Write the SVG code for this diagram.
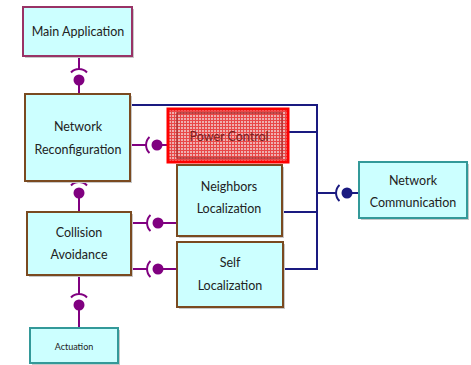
<svg xmlns="http://www.w3.org/2000/svg" width="471" height="365" viewBox="0 0 471 365">
<style>
.box{fill:#ccffff;stroke-width:2}
.sh{fill:#c8c8c8}
.t{font-family:Lato,"Open Sans",sans-serif;font-size:12.5px;fill:#222;text-anchor:middle}
.p{stroke:#800080;stroke-width:2;fill:none}
.ball{fill:#800080}
.n{stroke:#1a1a80;stroke-width:2;fill:none}
.nball{fill:#1a1a80}
</style>
<defs>
<pattern id="grid" width="3" height="3" patternUnits="userSpaceOnUse">
<rect width="3" height="3" fill="#eeb0b0"/>
<path d="M0 0.5H3M0.5 0V3" stroke="#e84848" stroke-width="1"/>
</pattern>
</defs>
<rect width="471" height="365" fill="#fff"/>
<g id="connectors">
<!-- Main App to Network Reconfig -->
<path class="p" d="M79 56V69M79 80V94M71 72.5A11 11 0 0 1 87 72.5"/>
<circle class="ball" cx="79" cy="80" r="5.5"/>
<!-- NR to CA -->
<path class="p" d="M79 181V182M79 193V212M71 185.5A11 11 0 0 1 87 185.5"/>
<circle class="ball" cx="79" cy="193" r="5.5"/>
<!-- CA to Actuation -->
<path class="p" d="M79 275V294M79 305V328M71 297.5A11 11 0 0 1 87 297.5"/>
<circle class="ball" cx="79" cy="305" r="5.5"/>
<!-- NR to Power Control -->
<path class="p" d="M130 145H146M157 145H177M149.5 137A11 11 0 0 0 149.5 153"/>
<circle class="ball" cx="157" cy="145" r="5.5"/>
<!-- CA to Neighbors -->
<path class="p" d="M131 223H147M158 223H177M150.5 215A11 11 0 0 0 150.5 231"/>
<circle class="ball" cx="158" cy="223" r="5.5"/>
<!-- CA to Self -->
<path class="p" d="M131 269H147M158 269H177M150.5 261A11 11 0 0 0 150.5 277"/>
<circle class="ball" cx="158" cy="269" r="5.5"/>
<!-- navy bus -->
<path class="n" d="M130 105H317V269H283M289 132H317M282 212H317M317 193H336M347 193H359M339.5 185A11 11 0 0 0 339.5 201"/>
<circle class="nball" cx="347" cy="193" r="5.5"/>
</g>
<g id="main-application">
<rect class="sh" x="25" y="9" width="109" height="49"/>
<rect class="box" x="23" y="7" width="109" height="49" stroke="#993366"/>
<text class="t" x="78" y="36">Main Application</text>
</g>
<g id="network-reconfiguration">
<rect class="sh" x="27" y="96" width="105" height="87"/>
<rect class="box" x="25" y="94" width="105" height="87" stroke="#7a4a20"/>
<text class="t" x="78" y="131">Network</text>
<text class="t" x="78" y="154">Reconfiguration</text>
</g>
<g id="power-control">
<rect x="168" y="109" width="120" height="53" fill="url(#grid)" stroke="#ff0000" stroke-width="3"/>
<rect x="177" y="113" width="105" height="45" fill="none" stroke="#b03030" stroke-width="1.5"/>
<text class="t" x="229" y="141" style="fill:#7a2020">Power Control</text>
</g>
<g id="neighbors-localization">
<rect class="sh" x="179" y="167" width="105" height="71"/>
<rect class="box" x="177" y="165" width="105" height="71" stroke="#7a4a20"/>
<text class="t" x="229" y="191">Neighbors</text>
<text class="t" x="229" y="213">Localization</text>
</g>
<g id="self-localization">
<rect class="sh" x="179" y="244" width="106" height="65"/>
<rect class="box" x="177" y="242" width="106" height="65" stroke="#7a4a20"/>
<text class="t" x="230" y="267">Self</text>
<text class="t" x="230" y="290">Localization</text>
</g>
<g id="collision-avoidance">
<rect class="sh" x="29" y="214" width="104" height="63"/>
<rect class="box" x="27" y="212" width="104" height="63" stroke="#7a4a20"/>
<text class="t" x="79" y="237">Collision</text>
<text class="t" x="79" y="259">Avoidance</text>
</g>
<g id="network-communication">
<rect class="sh" x="361" y="164" width="108" height="56"/>
<rect class="box" x="359" y="162" width="108" height="56" stroke="#339999"/>
<text class="t" x="413" y="185">Network</text>
<text class="t" x="413" y="207">Communication</text>
</g>
<g id="actuation">
<rect class="sh" x="32" y="330" width="88" height="35"/>
<rect class="box" x="30" y="328" width="88" height="35" stroke="#339999"/>
<text class="t" x="74" y="350" style="font-size:9px">Actuation</text>
</g>
</svg>
